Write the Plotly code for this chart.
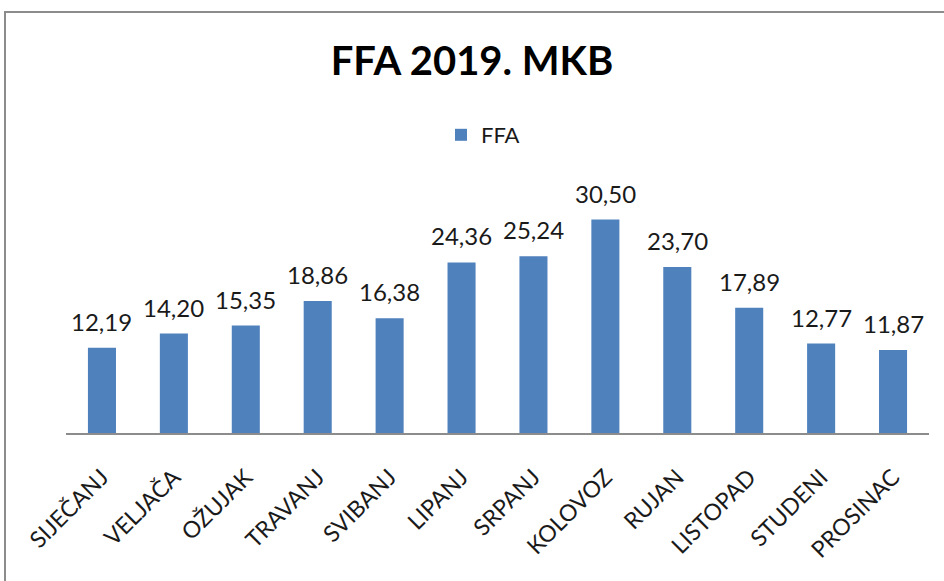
import plotly.graph_objects as go

months = ["SIJEČANJ", "VELJAČA", "OŽUJAK", "TRAVANJ", "SVIBANJ", "LIPANJ",
          "SRPANJ", "KOLOVOZ", "RUJAN", "LISTOPAD", "STUDENI", "PROSINAC"]
ffa = [12.19, 14.20, 15.35, 18.86, 16.38, 24.36, 25.24, 30.50, 23.70, 17.89, 12.77, 11.87]
series_name = "FFA"
title_text = "FFA 2019. MKB"

FONT = "Lato"
W, H = 944, 581
L, R, T, B = 66, 15, 188, 148

fig = go.Figure()
fig.add_trace(go.Bar(
    x=months, y=ffa, name=series_name,
    marker=dict(color="#4F81BD", line=dict(width=0)),
    width=0.39, showlegend=True,
))

for m, v in zip(months, ffa):
    fig.add_annotation(
        x=m, y=v, text=f"{v:.2f}".replace(".", ","),
        showarrow=False, yanchor="bottom", yshift=10,
        font=dict(family=FONT, size=24, color="#1a1a1a"),
    )

# chart frame
fig.add_shape(type="rect", xref="paper", yref="paper",
              x0=(5 - L) / (W - L - R), x1=1.2,
              y0=-1.0, y1=(433 - 12) / (H - T - B),
              line=dict(color="#8c8c8c", width=2), fillcolor="rgba(0,0,0,0)",
              layer="below")

fig.update_layout(
    width=W, height=H,
    margin=dict(l=L, r=R, t=T, b=B, pad=0),
    paper_bgcolor="white", plot_bgcolor="white",
    title=dict(text=f"<b>{title_text}</b>", x=0.5, xanchor="center",
               y=1 - 61 / H, yanchor="middle", yref="container",
               font=dict(family=FONT, size=40, color="black")),
    legend=dict(orientation="h", x=(441 - L) / (W - L - R), xanchor="left",
                y=(433 - 135) / (H - T - B), yanchor="middle",
                font=dict(family=FONT, size=22, color="#1a1a1a"),
                itemwidth=30, bgcolor="rgba(0,0,0,0)"),
    xaxis=dict(showline=True, linecolor="#8c8c8c", linewidth=1.5,
               showgrid=False, ticks="outside", ticklen=20,
               tickcolor="rgba(0,0,0,0)", tickangle=-45,
               tickfont=dict(family=FONT, size=23, color="#1a1a1a")),
    yaxis=dict(visible=False, range=[0, 35], showgrid=False, zeroline=False),
    bargap=0.61,
)

fig.write_html("out.html", config={"displayModeBar": False},
               post_script="document.body.style.margin='0';document.body.style.overflow='hidden';")
